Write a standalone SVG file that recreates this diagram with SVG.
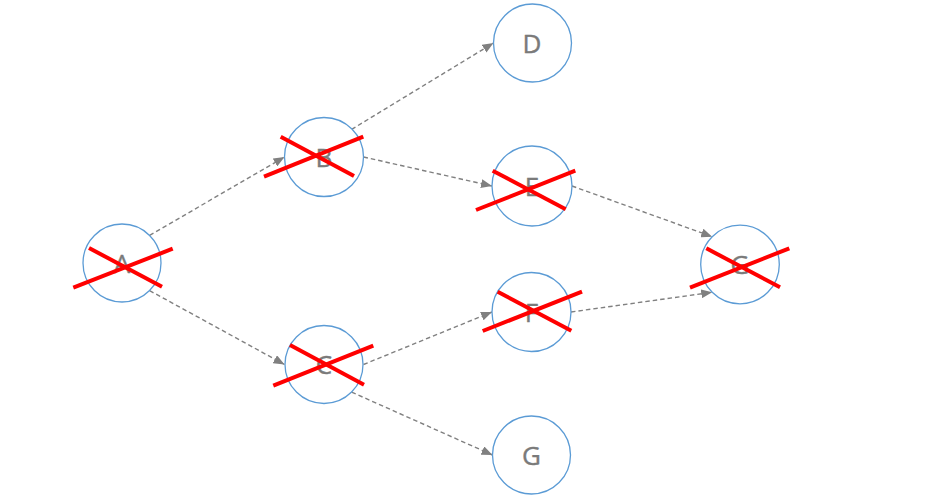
<svg xmlns="http://www.w3.org/2000/svg" width="939" height="499" viewBox="0 0 939 499">
<defs>
<style>
.node circle{fill:#ffffff;stroke:#5b9bd5;stroke-width:1.3}
.node text{font-family:"Open Sans","Liberation Sans",sans-serif;font-size:26px;fill:#7a7a7a;text-anchor:middle;stroke:#7a7a7a;stroke-width:0.4}
.x line{stroke:#ff0000;stroke-width:4;stroke-linecap:butt}
.edge{stroke:#808080;stroke-width:1.4;stroke-dasharray:4.5 3;fill:none;marker-end:url(#arr)}
</style>
<marker id="arr" markerUnits="userSpaceOnUse" markerWidth="11" markerHeight="9" refX="11" refY="4.5" orient="auto" viewBox="0 0 11 9">
<path d="M0,0 L11,4.5 L0,9 z" fill="#808080"/>
</marker>
</defs>
<rect width="939" height="499" fill="#ffffff"/>
<g id="connectors">
<line class="edge" x1="149.6" y1="235.4" x2="284.5" y2="157"/>
<line class="edge" x1="149.6" y1="290.6" x2="284.5" y2="364.5"/>
<line class="edge" x1="351.6" y1="129.4" x2="493.5" y2="43"/>
<line class="edge" x1="363.5" y1="157" x2="492" y2="186"/>
<line class="edge" x1="363.5" y1="364.5" x2="492" y2="312"/>
<line class="edge" x1="351.6" y1="392.1" x2="492.5" y2="455"/>
<line class="edge" x1="572" y1="186" x2="712.2" y2="236.7"/>
<line class="edge" x1="571" y1="312" x2="712.2" y2="292.3"/>
</g>
<g id="node-A" class="node">
<circle cx="122" cy="263" r="39"/>
<text x="122" y="272.5">A</text>
<g class="x"><line x1="73.3" y1="287.7" x2="172.7" y2="248.7"/><line x1="89" y1="248" x2="162" y2="286.7"/></g>
</g>
<g id="node-B" class="node">
<circle cx="324" cy="157" r="39.5"/>
<text x="324" y="166.5">B</text>
<g class="x"><line x1="264" y1="176.7" x2="363.3" y2="136.7"/><line x1="280.7" y1="136.7" x2="354" y2="176"/></g>
</g>
<g id="node-C" class="node">
<circle cx="324" cy="364.5" r="39"/>
<text x="324" y="374">C</text>
<g class="x"><line x1="273.3" y1="385.7" x2="373.3" y2="345.7"/><line x1="290" y1="345" x2="364" y2="384.7"/></g>
</g>
<g id="node-D" class="node">
<circle cx="532.5" cy="43" r="39"/>
<text x="532" y="52.5">D</text>
</g>
<g id="node-E" class="node">
<circle cx="532" cy="186" r="40"/>
<text x="532" y="195.5">E</text>
<g class="x"><line x1="476" y1="210" x2="575.3" y2="170.7"/><line x1="492.7" y1="170.7" x2="565.7" y2="209.3"/></g>
</g>
<g id="node-F" class="node">
<circle cx="531.5" cy="312" r="39.5"/>
<text x="531.5" y="321.5">F</text>
<g class="x"><line x1="482.7" y1="331" x2="582" y2="291.7"/><line x1="497.7" y1="291.7" x2="571.3" y2="330.7"/></g>
</g>
<g id="node-G2" class="node">
<circle cx="740" cy="264.5" r="39.3"/>
<text x="740" y="274">G</text>
<g class="x"><line x1="690" y1="287.7" x2="789.3" y2="248.3"/><line x1="706.3" y1="248.3" x2="780" y2="287.3"/></g>
</g>
<g id="node-G" class="node">
<circle cx="531.5" cy="455" r="39"/>
<text x="531.5" y="464.5">G</text>
</g>
</svg>
